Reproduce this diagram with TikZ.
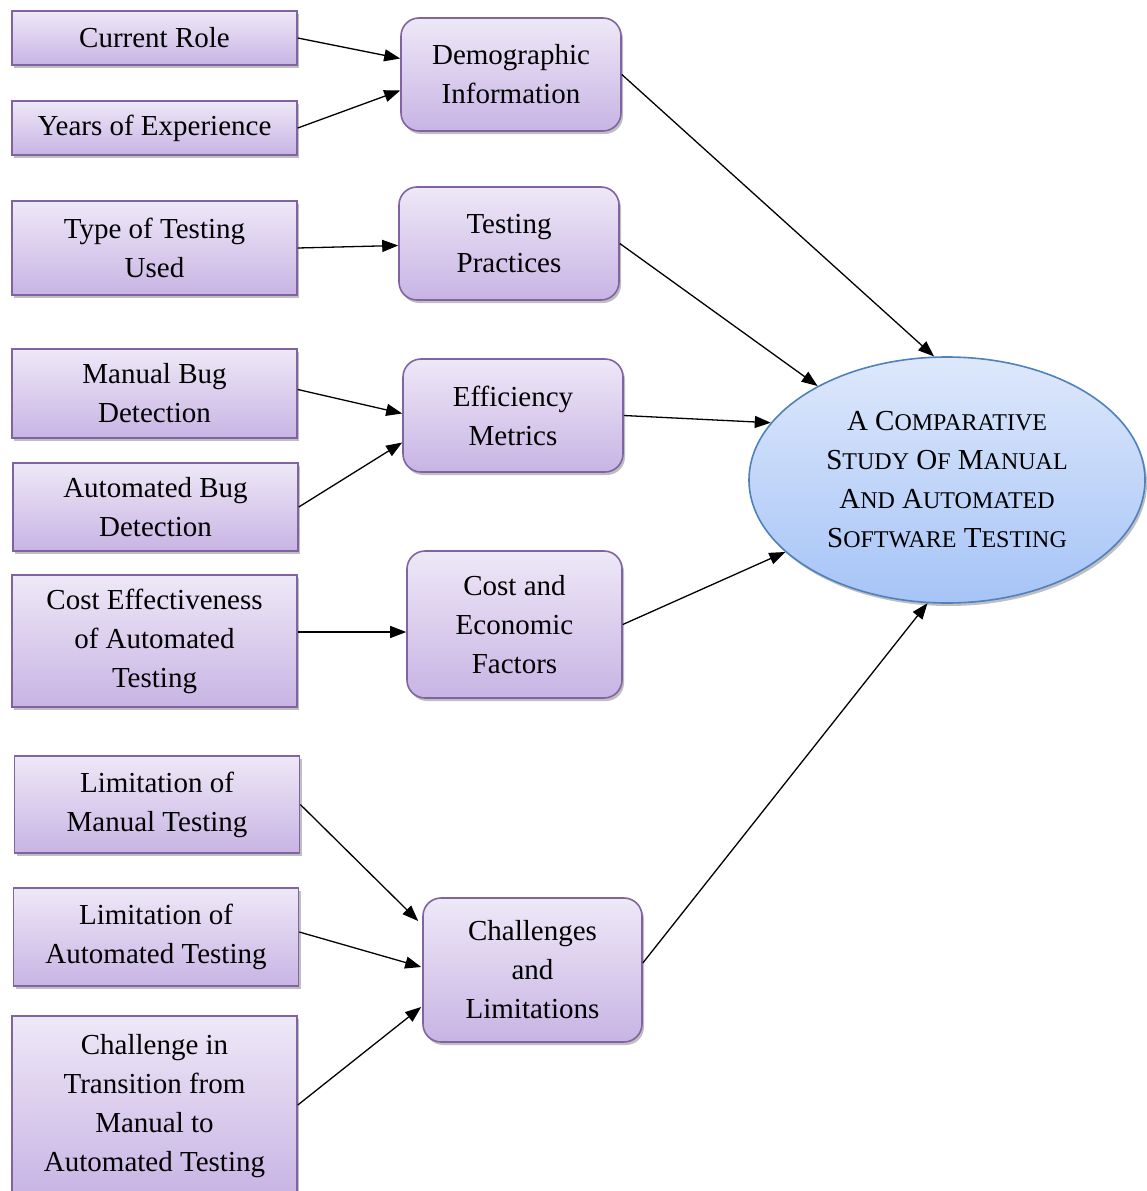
\documentclass[tikz,border=0pt]{standalone}
\usepackage{fontspec}
\setmainfont{Liberation Serif}
\usetikzlibrary{arrows.meta,shapes.geometric,shadows,calc}
\definecolor{boxtop}{RGB}{238,232,247}
\definecolor{boxbot}{RGB}{200,180,228}
\definecolor{boxline}{RGB}{128,100,162}
\definecolor{elltop}{RGB}{222,232,251}
\definecolor{ellbot}{RGB}{166,196,247}
\definecolor{ellline}{RGB}{79,129,189}
\newcommand{\fsc}[2]{#1{\fontsize{24}{39}\selectfont #2}}
\begin{document}
\begin{tikzpicture}[x=1pt,y=-1pt,
  every node/.style={font=\fontsize{29}{39}\selectfont, align=center, inner sep=0pt},
  basebox/.style={draw=boxline, line width=1.6pt, top color=boxtop, bottom color=boxbot,
    drop shadow={shadow xshift=2pt, shadow yshift=-3pt, opacity=0.25, fill=black}},
  leftbox/.style={basebox, minimum width=285pt},
  midbox/.style={basebox, rounded corners=18pt, minimum width=220pt},
  arr/.style={draw=black, line width=1.3pt, -{Triangle[length=16pt,width=12pt]}}
]
\useasboundingbox (0,0) rectangle (1146,1191);

% left boxes
\node[leftbox, minimum height=54pt] (cr) at (154.5,38) {\raisebox{-2pt}{Current Role}};
\node[leftbox, minimum height=54pt] (ye) at (154.5,128) {\raisebox{-3pt}{Years of Experience}};
\node[leftbox, minimum height=94pt] (tt) at (154.5,248) {Type of Testing\\Used};
\node[leftbox, minimum height=89pt] (mb) at (154.5,393.5) {Manual Bug\\Detection};
\node[leftbox, minimum height=88pt] (ab) at (155.5,507) {Automated Bug\\Detection};
\node[leftbox, minimum height=132pt] (ce) at (154.5,641) {Cost Effectiveness\\of Automated\\Testing};
\node[leftbox, minimum height=97pt] (lm) at (157,804.5) {Limitation of\\Manual Testing};
\node[leftbox, minimum height=98pt] (la) at (156,937) {Limitation of\\Automated Testing};
\node[leftbox, minimum height=180pt] (ch) at (154.5,1106) {Challenge in\\Transition from\\Manual to\\Automated Testing};

% middle boxes
\node[midbox, minimum height=113pt] (demo) at (511,74.5) {Demographic\\Information};
\node[midbox, minimum height=113pt] (tp) at (509,243.5) {Testing\\Practices};
\node[midbox, minimum height=113pt] (em) at (513,415.5) {Efficiency\\Metrics};
\node[midbox, minimum height=147pt, minimum width=215pt] (cef) at (514.5,624.5) {Cost and\\Economic\\Factors};
\node[midbox, minimum height=144pt, minimum width=219pt] (cl) at (532.5,970) {Challenges\\and\\Limitations};

% central ellipse
\node[ellipse, draw=ellline, line width=1.6pt, top color=elltop, bottom color=ellbot,
  minimum width=396pt, minimum height=246pt,
  drop shadow={shadow xshift=2pt, shadow yshift=-3pt, opacity=0.25, fill=black}] (goal) at (947,480)
  {\fsc{A}{} \fsc{C}{OMPARATIVE}\\
   \fsc{S}{TUDY} \fsc{O}{F} \fsc{M}{ANUAL}\\
   \fsc{A}{ND} \fsc{A}{UTOMATED}\\
   \fsc{S}{OFTWARE} \fsc{T}{ESTING}};

% connectors left -> middle
\draw[arr] (cr.east) -- ($(demo.west)+(0,-16)$);
\draw[arr] (ye.east) -- ($(demo.west)+(0,16)$);
\draw[arr] (tt.east) -- ($(tp.west)+(0,2)$);
\draw[arr] ($(mb.east)+(0,-4)$) -- ($(em.west)+(0,-2)$);
\draw[arr] (ab.east) -- ($(em.west)+(0,27)$);
\draw[arr] ($(ce.east)+(0,-9)$) -- ($(cef.west)+(0,7.5)$);
\draw[arr] (lm.east) -- ($(cl.west)+(-4,-49)$);
\draw[arr] ($(la.east)+(0,-5)$) -- ($(cl.west)+(-1,-3)$);
\draw[arr] ($(ch.east)+(0,-1)$) -- ($(cl.west)+(-1,37)$);

% connectors middle -> goal
\draw[arr] (demo.east) -- (goal.96.5);
\draw[arr] (tp.east) -- (goal.144);
\draw[arr] (em.east) -- (goal.162);
\draw[arr] (cef.east) -- (goal.204);
\draw[arr] ($(cl.east)+(0,-7)$) -- (goal.261);
\end{tikzpicture}
\end{document}
